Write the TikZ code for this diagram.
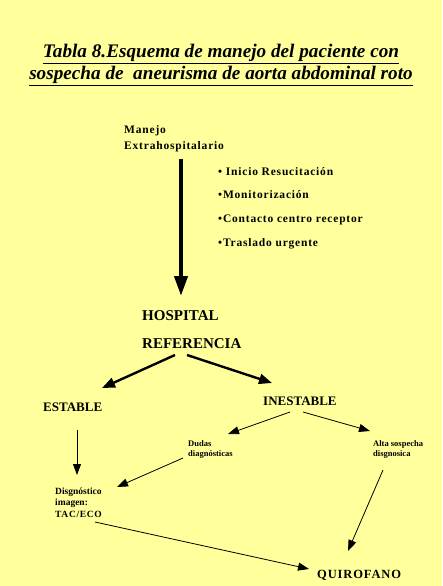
\documentclass[tikz,border=0pt]{standalone}
\usepackage{fontspec}
\setmainfont{Liberation Serif}
\usepackage{tikz}
\usetikzlibrary{arrows.meta}
\definecolor{bgyellow}{RGB}{255,255,155}
\newfontfamily\spacedfont[LetterSpace=7]{Liberation Serif}

\tikzset{
    txt/.style={anchor=base west, inner sep=0pt, font=\bfseries},
    titletxt/.style={anchor=base, inner sep=0pt, font=\fontsize{19.2}{21}\bfseries\itshape},
    bigarrow/.style={line width=4pt, -{Triangle[length=20pt, width=13pt]}},
    midarrow/.style={line width=2.4pt, -{Triangle[length=13pt, width=10pt]}},
    thinarrow/.style={line width=0.8pt, -{Triangle[length=11pt, width=8pt]}}
}

\begin{document}
\begin{tikzpicture}[x=1pt, y=-1pt]

    %% Background and frame of the page
    \fill[bgyellow] (0,0) rectangle (442,586);
    \useasboundingbox (0,0) rectangle (442,586);

    %% --- Title ---
    \node[titletxt] (title1) at (221,58) {\underline{Tabla 8.Esquema de manejo del paciente con}};
    \node[titletxt] (title2) at (221,80) {\underline{sospecha de \ aneurisma de aorta abdominal roto}};

    %% --- Pre-hospital block ---
    \node[txt, font=\spacedfont\bfseries\fontsize{11.5}{13}\selectfont] (manejo) at (124,133) {Manejo};
    \node[txt, font=\spacedfont\bfseries\fontsize{11.5}{13}\selectfont] (extra) at (124,149) {Extrahospitalario};

    \node[txt, font=\spacedfont\bfseries\fontsize{11.5}{13}\selectfont] (b1) at (218,175) {\textbullet\ Inicio Resucitación};
    \node[txt, font=\spacedfont\bfseries\fontsize{11.5}{13}\selectfont] (b2) at (218,198) {\textbullet Monitorización};
    \node[txt, font=\spacedfont\bfseries\fontsize{11.5}{13}\selectfont] (b3) at (218,222) {\textbullet Contacto centro receptor};
    \node[txt, font=\spacedfont\bfseries\fontsize{11.5}{13}\selectfont] (b4) at (218,246) {\textbullet Traslado urgente};

    %% --- Hospital ---
    \node[txt, font=\bfseries\fontsize{15}{17}\selectfont] (hosp) at (142,320) {HOSPITAL};
    \node[txt, font=\bfseries\fontsize{15}{17}\selectfont] (ref) at (142,348) {REFERENCIA};

    \node[txt, font=\bfseries\fontsize{13}{15}\selectfont] (estable) at (43,411) {ESTABLE};
    \node[txt, font=\bfseries\fontsize{13}{15}\selectfont] (inestable) at (263,405) {INESTABLE};

    %% small notes under INESTABLE (base = last line)
    \node[txt, font=\bfseries\fontsize{8.5}{9.5}\selectfont, align=left] (dudas) at (188,456)
        {Dudas\\diagnósticas};
    \node[txt, font=\bfseries\fontsize{8.5}{9.5}\selectfont, align=left] (alta) at (373,456)
        {Alta sospecha\\disgnosica};

    \node[txt, font=\bfseries\fontsize{9.5}{11.5}\selectfont, align=left] (diag) at (55,517)
        {Disgnóstico\\imagen:\\{\spacedfont\bfseries TAC/ECO}};

    \node[txt, font=\spacedfont\bfseries\fontsize{12.5}{14}\selectfont] (quiro) at (317,578) {QUIROFANO};

    %% --- Arrow end points ---
    \coordinate (extraS) at (181,159);
    \coordinate (hospN) at (181,296);
    \coordinate (refSW) at (175,355);
    \coordinate (refSE) at (187,355);
    \coordinate (estN) at (102,388);
    \coordinate (inesN) at (272,383);
    \coordinate (inesSW) at (290,412);
    \coordinate (inesSE) at (303,412);
    \coordinate (dudasN) at (228,434);
    \coordinate (altaN) at (370,431);
    \coordinate (estS) at (77,430);
    \coordinate (diagN) at (77,475);
    \coordinate (dudasS) at (183,458);
    \coordinate (diagNE) at (117,487);
    \coordinate (altaS) at (383,470);
    \coordinate (quiroN) at (348,551);
    \coordinate (diagS) at (95,522);
    \coordinate (quiroW) at (309,569);

    %% --- Arrows ---
    \draw[bigarrow] (extraS) -- (hospN);
    \draw[midarrow] (refSW) -- (estN);
    \draw[midarrow] (refSE) -- (inesN);
    \draw[thinarrow] (inesSW) -- (dudasN);
    \draw[thinarrow] (inesSE) -- (altaN);
    \draw[thinarrow] (estS) -- (diagN);
    \draw[thinarrow] (dudasS) -- (diagNE);
    \draw[thinarrow] (altaS) -- (quiroN);
    \draw[thinarrow] (diagS) -- (quiroW);

\end{tikzpicture}
\end{document}
